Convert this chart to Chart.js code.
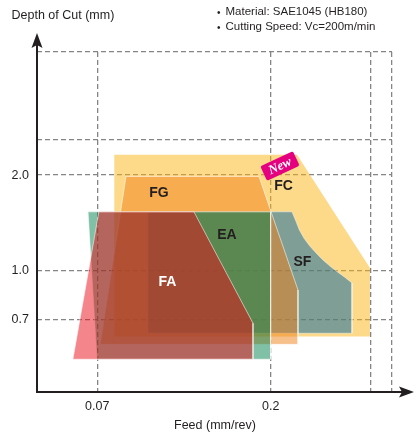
<!DOCTYPE html>
<html><head><meta charset="utf-8">
<script src="https://cdn.jsdelivr.net/npm/chart.js@4.4.1/dist/chart.umd.min.js"></script>
<style>html,body{margin:0;padding:0;background:#fff}</style>
</head><body>
<canvas id="c" width="416" height="438"></canvas>
<script>
// ---- axis ticks (feed mm/rev, depth mm), log scales ----
const xRange = [0.0486, 0.417];
const yRange = [0.412, 4.9];
const xTickValues = [0.0486, 0.07, 0.2, 0.366, 0.417];
const xTickLabels = ['', '0.07', '0.2', '', ''];
const yTickValues = [0.412, 0.7, 1.0, 2.0, 2.58, 4.9];
const yTickLabels = ['', '0.7', '1.0', '2.0', '', ''];

// ---- chipbreaker application ranges: polygon vertices ----
const faFeed  = [0.0707, 0.1257, 0.1797, 0.1797, 0.0604];
const faDepth = [1.53, 1.53, 0.68, 0.523, 0.523];
const eaFeed  = [0.0662, 0.2, 0.2, 0.0699];
const eaDepth = [1.53, 1.53, 0.523, 0.523];
const fgFeed  = [0.0833, 0.1863, 0.236, 0.236, 0.0713];
const fgDepth = [1.98, 1.98, 0.866, 0.583, 0.583];
const sfFeed  = [0.0951, 0.2276, 0.2330, 0.2380, 0.2450, 0.2538, 0.2640, 0.2750, 0.2880, 0.3006, 0.3140, 0.3272, 0.3272, 0.0951];
const sfDepth = [1.53, 1.53, 1.43, 1.34, 1.26, 1.19, 1.13, 1.075, 1.025, 0.985, 0.948, 0.912, 0.632, 0.632];
const fcFeed  = [0.0776, 0.2346, 0.3649, 0.3649, 0.0776];
const fcDepth = [2.32, 2.32, 1.017, 0.617, 0.617];

const seriesNames = ['FA', 'EA', 'FG', 'SF', 'FC'];
const labelFeed  = [0.1071, 0.1535, 0.1017, 0.2425, 0.2162];
const labelDepth = [0.919, 1.294, 1.756, 1.063, 1.848];
const newBadge = {feed: 0.2116, depth: 2.137, text: 'New'};

const notes = ['Material: SAE1045 (HB180)', 'Cutting Speed: Vc=200m/min'];
const yTitle = 'Depth of Cut (mm)';
const xTitle = 'Feed (mm/rev)';

const shapeColors = ['rgba(233,11,23,0.5)', 'rgba(0,129,77,0.5)', 'rgba(239,127,22,0.5)', 'rgba(1,99,162,0.5)', 'rgba(251,179,21,0.5)'];
const labelColors = ['#ffffff', '#231F20', '#231F20', '#231F20', '#231F20'];
const borderColors = ['rgba(255,255,255,0.55)', 'rgba(255,255,255,0.55)', 'rgba(255,255,255,0.55)', 'rgba(255,255,255,0.45)', 'rgba(0,0,0,0)'];

const polys = [[faFeed, faDepth], [eaFeed, eaDepth], [fgFeed, fgDepth], [sfFeed, sfDepth], [fcFeed, fcDepth]];
const datasets = polys.map(([fx, fy], i) => {
  const pts = fx.map((v, k) => ({x: v, y: fy[k]}));
  pts.push({x: fx[0], y: fy[0]});
  return {
    label: seriesNames[i], data: pts, showLine: true, fill: 'shape',
    backgroundColor: shapeColors[i], borderColor: borderColors[i], borderWidth: 1,
    pointRadius: 0, tension: 0
  };
});

const FONT = '"Liberation Sans", Arial, Helvetica, sans-serif';
const INK = '#231F20';

const deco = {
  id: 'deco',
  afterDraw(chart) {
    const {ctx, chartArea: a, scales: {x, y}} = chart;
    ctx.save();
    // series labels
    ctx.textAlign = 'center'; ctx.textBaseline = 'middle';
    ctx.font = 'bold 14px ' + FONT;
    seriesNames.forEach((n, i) => {
      ctx.fillStyle = labelColors[i];
      ctx.fillText(n, x.getPixelForValue(labelFeed[i]), y.getPixelForValue(labelDepth[i]));
    });
    // New badge
    const bx = x.getPixelForValue(newBadge.feed), by = y.getPixelForValue(newBadge.depth);
    ctx.save();
    ctx.translate(bx, by); ctx.rotate(-25 * Math.PI / 180);
    ctx.fillStyle = '#E4007F';
    ctx.beginPath(); ctx.roundRect ? ctx.roundRect(-18, -8, 36, 16, 2) : ctx.rect(-18, -8, 36, 16); ctx.fill();
    ctx.fillStyle = '#fff';
    ctx.font = 'italic bold 13px "Liberation Serif", "DejaVu Serif", serif';
    ctx.fillText(newBadge.text, 0, 0.5);
    ctx.restore();
    // axes
    ctx.strokeStyle = INK; ctx.fillStyle = INK; ctx.lineWidth = 2;
    ctx.beginPath(); ctx.moveTo(a.left, a.bottom + 1); ctx.lineTo(a.left, 44); ctx.stroke();
    ctx.beginPath(); ctx.moveTo(a.left - 1, a.bottom); ctx.lineTo(404, a.bottom); ctx.stroke();
    ctx.beginPath(); ctx.moveTo(a.left, 33); ctx.lineTo(a.left + 5.5, 48); ctx.lineTo(a.left, 45); ctx.lineTo(a.left - 5.5, 48); ctx.closePath(); ctx.fill();
    ctx.beginPath(); ctx.moveTo(414, a.bottom); ctx.lineTo(399, a.bottom - 5.5); ctx.lineTo(402, a.bottom); ctx.lineTo(399, a.bottom + 5.5); ctx.closePath(); ctx.fill();
    // titles & notes
    ctx.fillStyle = INK; ctx.textBaseline = 'middle';
    ctx.font = '12.5px ' + FONT;
    ctx.textAlign = 'left';
    ctx.fillText(yTitle, 11.5, 16);
    ctx.textAlign = 'center';
    ctx.fillText(xTitle, 215, 426);
    ctx.textAlign = 'left';
    notes.forEach((t, i) => {
      ctx.font = '10px ' + FONT;
      ctx.fillText('•', 217, 13 + i * 15);
      ctx.font = '11.5px ' + FONT;
      ctx.fillText(t, 225.5, 12 + i * 15);
    });
    ctx.restore();
  }
};

const tickFont = {family: FONT, size: 12.5};
new Chart(document.getElementById('c'), {
  type: 'scatter',
  data: {datasets},
  options: {
    responsive: false, animation: false, devicePixelRatio: 1,
    layout: {padding: {top: 52, right: 24, left: 0, bottom: 0}},
    plugins: {legend: {display: false}, tooltip: {enabled: false}},
    scales: {
      x: {
        type: 'logarithmic', min: xRange[0], max: xRange[1], bounds: 'data',
        afterBuildTicks: s => { s.ticks = xTickValues.map(v => ({value: v})); },
        afterFit: s => { s.height = 46; },
        grid: {color: '#858585', lineWidth: 1.3, drawTicks: false},
        border: {display: false, dash: [5, 3]},
        ticks: {padding: 7, color: INK, font: tickFont, autoSkip: false, maxRotation: 0,
                callback: (v, i) => xTickLabels[i]}
      },
      y: {
        type: 'logarithmic', min: yRange[0], max: yRange[1], bounds: 'data',
        afterBuildTicks: s => { s.ticks = yTickValues.map(v => ({value: v})); },
        afterFit: s => { s.width = 37; },
        grid: {color: '#858585', lineWidth: 1.3, drawTicks: false},
        border: {display: false, dash: [5, 3]},
        ticks: {padding: 8, color: INK, font: tickFont, autoSkip: false,
                callback: (v, i) => yTickLabels[i]}
      }
    }
  },
  plugins: [deco]
});
</script>
</body></html>
